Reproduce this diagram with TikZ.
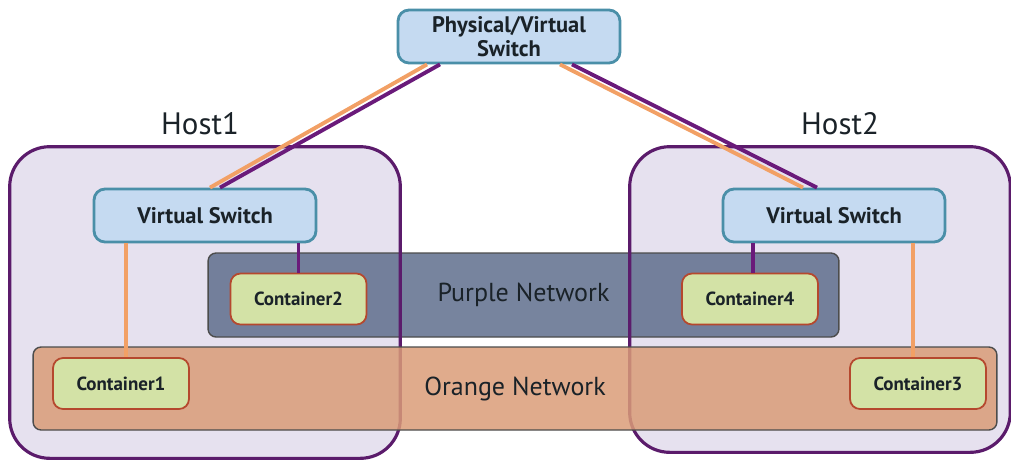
\documentclass[tikz,border=0pt]{standalone}
\usepackage{fontspec}
\setmainfont{PT Sans}
\usepackage{tikz}
\usetikzlibrary{positioning,calc}
\definecolor{hostfill}{HTML}{E6E1EF}
\definecolor{hostline}{HTML}{5B1B6B}
\definecolor{swfill}{HTML}{C5DAF1}
\definecolor{swline}{HTML}{4A8FA8}
\definecolor{purnet}{HTML}{5F6F8D}
\definecolor{orgnet}{HTML}{DA9C78}
\definecolor{ctfill}{HTML}{D3E2A6}
\definecolor{ctline}{HTML}{B5482E}
\definecolor{orgwire}{HTML}{F2A065}
\definecolor{purwire}{HTML}{6A1A7A}
\definecolor{txt}{HTML}{1A2228}

\begin{document}
\begin{tikzpicture}[x=0.02cm,y=-0.02cm,
  host/.style={fill=hostfill,rounded corners=0.8cm,minimum width=7.8cm,minimum height=6.22cm},
  hostedge/.style={hostline,line width=1.8pt,rounded corners=0.8cm},
  switch/.style={draw=swline,line width=1.6pt,fill=swfill,rounded corners=0.22cm,minimum width=4.44cm,minimum height=1.06cm,font=\fontsize{12.8}{13.6}\selectfont\bfseries,text=txt,align=center},
  net/.style={draw=black!70,line width=0.8pt,rounded corners=0.16cm,fill opacity=0.85,text opacity=1,text=txt,font=\fontsize{14.8}{16}\selectfont},
  ctr/.style={draw=ctline,line width=1pt,fill=ctfill,rounded corners=0.2cm,minimum width=2.72cm,minimum height=1.02cm,font=\fontsize{10.8}{12}\selectfont\bfseries,text=txt},
  orgw/.style={orgwire,line width=2.2pt},
  purw/.style={purwire,line width=2.2pt}]
  \useasboundingbox (0,0) rectangle (1011,461);
  % hosts (fill only, border drawn further down)
  \node[host] (h1) at (205,302.5){};
  \node[host,minimum width=7.6cm,minimum height=6.1cm] (h2) at (820,299.5){};
  \node[font=\fontsize{17.6}{20}\selectfont,text=txt] (h1l) at (200,124){Host1};
  \node[font=\fontsize{17.6}{20}\selectfont,text=txt] (h2l) at (840,124){Host2};
  % networks
  \node[net,fill=purnet,minimum width=12.62cm,minimum height=1.68cm] (pn) at (523.5,295){Purple Network};
  \draw[hostedge] (h1.south west) rectangle (h1.north east);
  \draw[hostedge] (h2.south west) rectangle (h2.north east);
  \node[net,fill=orgnet,minimum width=19.28cm,minimum height=1.66cm] (on) at (515,388.5){Orange Network};
  % switches and containers
  \node[switch] (top) at (509,36.5){Physical/Virtual\\Switch};
  \node[switch] (vs1) at (205,215.5){Virtual Switch};
  \node[switch] (vs2) at (834,215.5){Virtual Switch};
  \node[ctr] (c1) at (121,383.5){Container1};
  \node[ctr] (c2) at (298.5,299){Container2};
  \node[ctr] (c4) at (750,299){Container4};
  \node[ctr] (c3) at (918,383.5){Container3};
  % uplinks
  \draw[orgw] ([xshift=-1.64cm]top.south) -- ([xshift=0.1cm]vs1.north);
  \draw[purw] ([xshift=-1.38cm]top.south) -- ([xshift=0.3cm]vs1.north);
  \draw[orgw] ([xshift=1.02cm]top.south) -- ([xshift=-0.62cm]vs2.north);
  \draw[purw] ([xshift=1.26cm]top.south) -- ([xshift=-0.34cm]vs2.north);
  % container links
  \draw[orgw,line width=1.8pt] ([xshift=0.1cm]c1.north) -- ([xshift=0.1cm]c1.north |- vs1.south);
  \draw[purw,line width=1.8pt] (c2.north) -- (c2.north |- vs1.south);
  \draw[purw,line width=1.8pt] ([xshift=0.06cm]c4.north) -- ([xshift=0.06cm]c4.north |- vs2.south);
  \draw[orgw,line width=1.8pt] ([xshift=-0.1cm]c3.north) -- ([xshift=-0.1cm]c3.north |- vs2.south);
\end{tikzpicture}
\end{document}
